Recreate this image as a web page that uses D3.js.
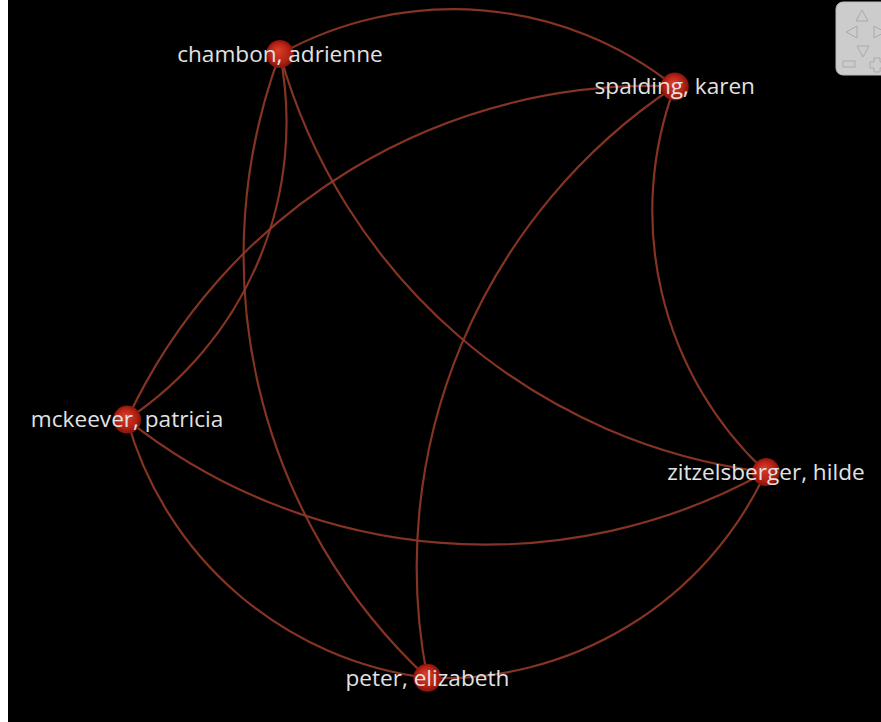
<!DOCTYPE html>
<html lang="en">
<head>
  <meta charset="UTF-8">
  <title>Network</title>
  <script src="https://d3js.org/d3.v7.min.js"></script>
  <style>
    body {margin:0; background:#fff; overflow:hidden;}
    text {font-family: "Open Sans", sans-serif;}
  </style>
</head>
<body>
<svg id="canvas" width="881" height="722"></svg>
<script>
  // people in the network, in order round the circle
  const names = ["chambon, adrienne", "spalding, karen", "zitzelsberger, hilde", "peter, elizabeth", "mckeever, patricia"];
  // links (source index -> target index)
  const linkSource = [0, 2, 2, 3, 0, 2, 3, 4, 3, 2];
  const linkTarget = [1, 1, 3, 4, 4, 0, 0, 1, 1, 4];

  const svg = d3.select("#canvas");
  const cx = 455, cy = 342, R = 337;

  svg.append("rect").attr("x", 8).attr("y", 0).attr("width", 873).attr("height", 722).attr("fill", "#000");

  const defs = svg.append("defs");
  const grad = defs.append("radialGradient").attr("id", "nodeGrad")
    .attr("cx", "50%").attr("cy", "50%").attr("r", "50%").attr("fx", "42%").attr("fy", "35%");
  grad.append("stop").attr("offset", "0%").attr("stop-color", "#dc3e2a");
  grad.append("stop").attr("offset", "70%").attr("stop-color", "#b32214");
  grad.append("stop").attr("offset", "100%").attr("stop-color", "#84130b");

  const angle = d3.scaleLinear().domain([0, names.length]).range([-121.3, 238.7]);
  const nodes = names.map((n, i) => {
    const a = angle(i) * Math.PI / 180;
    return {name: n, x: cx + R * Math.cos(a), y: cy + R * Math.sin(a)};
  });
  const links = linkSource.map((s, i) => ({source: nodes[s], target: nodes[linkTarget[i]]}));

  svg.append("g").selectAll("path")
    .data(links)
    .enter().append("path")
    .attr("fill", "none")
    .attr("stroke", "#933826")
    .attr("stroke-opacity", 0.9)
    .attr("stroke-width", 2.2)
    .attr("d", function(d) {
      var dx = d.target.x - d.source.x, dy = d.target.y - d.source.y;
      var dr = Math.sqrt(dx * dx + dy * dy) * 0.9;
      return "M" + d.source.x + "," + d.source.y + "A" + dr + "," + dr + " 0 0,1 " + d.target.x + "," + d.target.y;
    });

  const node = svg.append("g").selectAll("g")
    .data(nodes)
    .enter().append("g")
    .attr("transform", d => "translate(" + d.x + "," + d.y + ")");
  node.append("circle").attr("r", 14).attr("fill", "url(#nodeGrad)");
  node.append("text")
    .attr("text-anchor", "middle")
    .attr("dy", "0.35em")
    .attr("fill", "#e2e2e2")
    .attr("font-size", 22.6)
    .text(d => d.name);

  // navigation widget, top right
  const nav = svg.append("g").attr("transform", "translate(836,2)");
  nav.append("rect").attr("width", 60).attr("height", 73).attr("rx", 7).attr("fill", "#cccccc").attr("stroke", "#bbbbbb");
  const tri = (pts) => nav.append("path").attr("d", "M" + pts.join("L") + "Z")
    .attr("fill", "none").attr("stroke", "#aaaaaa").attr("stroke-width", 1);
  tri([[26, 8], [20, 19], [32, 19]]);
  tri([[21, 44], [27, 55], [33, 44]]);
  tri([[10, 30], [21, 24], [21, 36]]);
  tri([[38, 24], [49, 30], [38, 36]]);
  nav.append("rect").attr("x", 7).attr("y", 59).attr("width", 12).attr("height", 6)
    .attr("fill", "none").attr("stroke", "#aaaaaa");
  nav.append("path").attr("d", "M38,56h6v4h4v6h-4v4h-6v-4h-4v-6h4z")
    .attr("fill", "none").attr("stroke", "#aaaaaa");
</script>
</body>
</html>
